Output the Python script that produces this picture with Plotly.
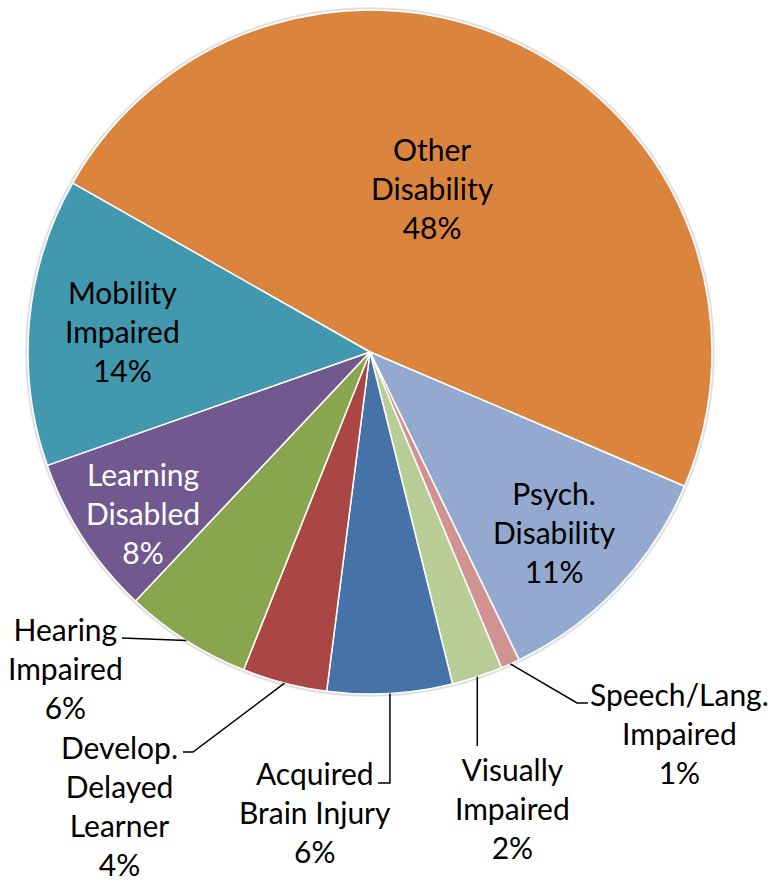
import math
import plotly.graph_objects as go

# ---------------- data ----------------
categories = ["Other<br>Disability", "Psych.<br>Disability", "Speech/Lang.<br>Impaired",
              "Visually<br>Impaired", "Acquired<br>Brain Injury", "Develop.<br>Delayed<br>Learner",
              "Hearing<br>Impaired", "Learning<br>Disabled", "Mobility<br>Impaired"]
values = [48.2, 11.4, 0.9, 2.4, 5.9, 4.0, 6.0, 7.6, 13.6]

# ---------------- style ----------------
colors = ["#DA843E", "#93A9CF", "#D19392", "#B9CD96", "#4572A7",
          "#AA4643", "#89A54E", "#71588F", "#4198AF"]
text_colors = ["black", "black", "black", "black", "black",
               "black", "black", "white", "black"]
FONT = "Lato"
FSIZE = 30

W, H = 768, 882
CX, CY, R = 370, 352, 342
ROTATION = -60.4

# label block centres (px) for each category
label_pos = [(432, 188), (554, 532), (679, 733), (512, 808), (315, 812),
             (119, 805), (65, 668), (143, 513), (122, 331)]
# leader line elbows (px) for outside labels; None = inside label
leaders = [None, None,
           [(577, 703), (588, 703)],
           [("edge", 746)],
           [("edge", 783), (378, 783)],
           [(193, 752), (183, 752)],
           [(122, 638)],
           None, None]


def px(x):
    return x / W


def py(y):
    return 1 - y / H


fig = go.Figure()
fig.add_trace(go.Pie(
    labels=categories, values=values, sort=False, direction="clockwise",
    rotation=ROTATION, textinfo="none", hoverinfo="label+percent",
    marker=dict(colors=colors, line=dict(color="white", width=1.5)),
    domain=dict(x=[px(CX - R), px(CX + R)], y=[py(CY + R), py(CY - R)]),
    showlegend=False,
))

total = sum(values)
annotations = []
shapes = []
# subtle rim shadow
shapes.append(dict(type="circle", xref="paper", yref="paper", layer="below",
                   x0=px(CX - R - 1.5), x1=px(CX + R + 1.5),
                   y0=py(CY + R + 1.5), y1=py(CY - R - 1.5),
                   line=dict(color="rgba(0,0,0,0.12)", width=2.5)))

cum = 0.0
for i, (cat, v) in enumerate(zip(categories, values)):
    pct = round(v / total * 100)
    mid = ROTATION + (cum + v / 2) / total * 360
    cum += v
    lx, ly = label_pos[i]
    annotations.append(dict(
        x=px(lx), y=py(ly), xref="paper", yref="paper", showarrow=False,
        text=f"{cat}<br>{pct}%", align="center", xanchor="center", yanchor="middle",
        font=dict(family=FONT, size=FSIZE, color=text_colors[i])))
    if leaders[i] is not None:
        a = math.radians(mid)
        ex, ey = CX + R * math.sin(a), CY - R * math.cos(a)
        pts = [(ex, ey)]
        for (qx, qy) in leaders[i]:
            if qx == "edge":
                qx = ex
            pts.append((qx, qy))
        path = "M " + " L ".join(f"{px(x):.5f},{py(y):.5f}" for x, y in pts)
        shapes.append(dict(type="path", xref="paper", yref="paper", path=path,
                           line=dict(color="black", width=1.5)))

fig.update_layout(
    width=W, height=H, autosize=False,
    margin=dict(l=0, r=0, t=0, b=0),
    paper_bgcolor="white", plot_bgcolor="white",
    annotations=annotations, shapes=shapes,
)

fig.write_html("out.html", config={"displayModeBar": False},
               post_script="document.body.style.margin='0';document.body.style.overflow='hidden';")
